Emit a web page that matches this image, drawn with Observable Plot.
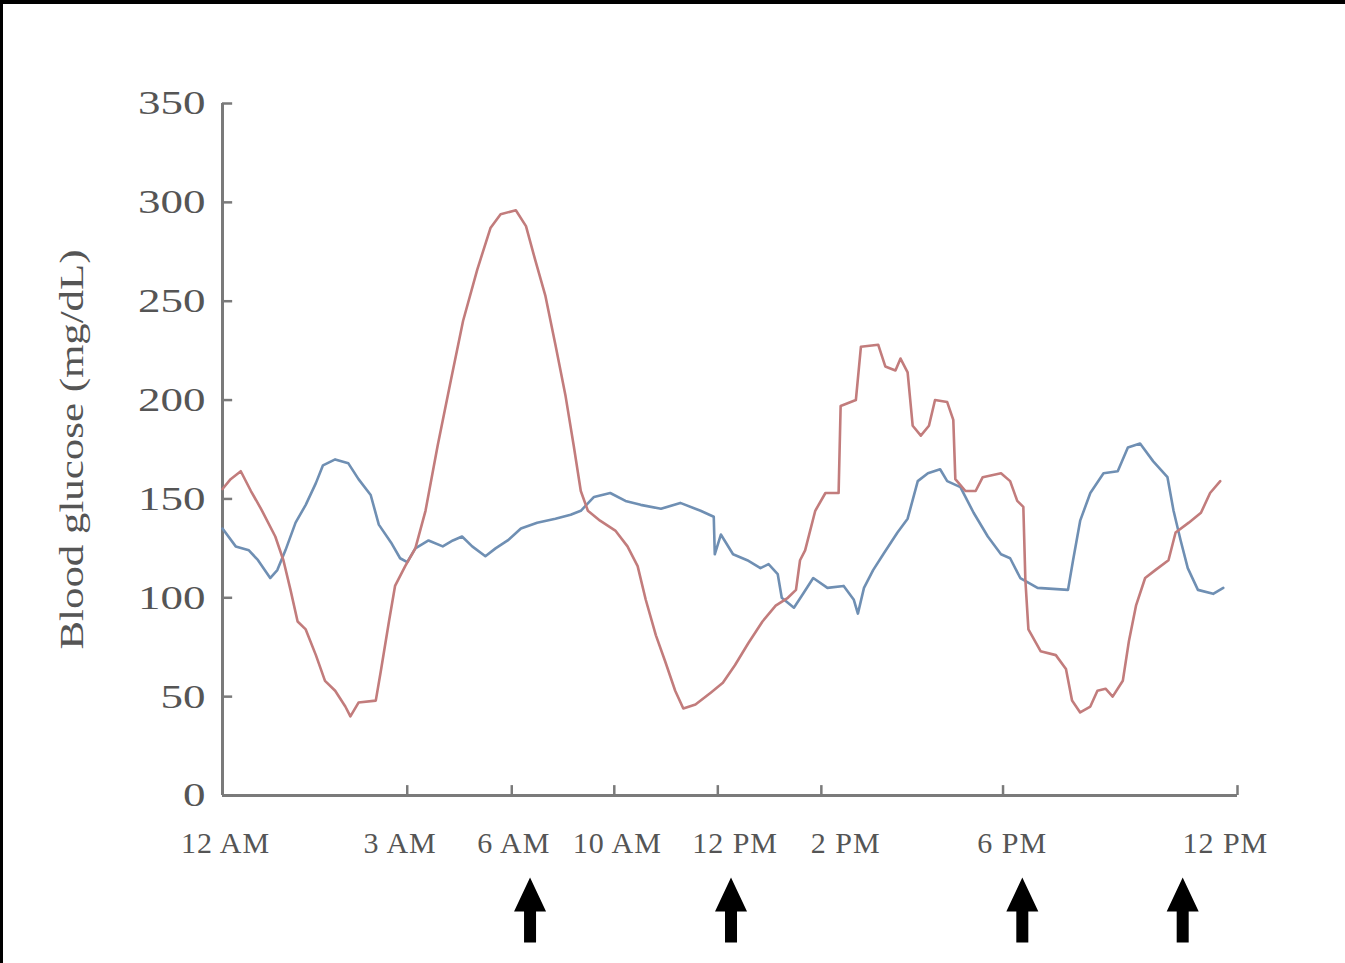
<!DOCTYPE html>
<html><head><meta charset="utf-8">
<script src="https://cdn.jsdelivr.net/npm/d3@7"></script>
<script src="https://cdn.jsdelivr.net/npm/@observablehq/plot@0.6"></script>
<style>
html,body{margin:0;padding:0;background:#fff;}
#frame{width:1342px;height:959px;border-top:4px solid #000;border-left:3px solid #000;overflow:hidden;background:#fff;}
text[aria-label="xtick-label"]{letter-spacing:1px;}
</style></head><body><div id="frame"></div>
<script>
// Time axis is an irregular index (0 = 12 AM start, 100 = 12 PM end)
const xTickPos = [18.2, 28.5, 38.6, 48.8, 59.0, 76.9, 100];
const xLabelText = ["12 AM", "3 AM", "6 AM", "10 AM", "12 PM", "2 PM", "6 PM", "12 PM"];
const xLabelPos = [0.3, 17.5, 28.7, 38.9, 50.5, 61.4, 77.8, 98.8];
const mealPos = [30.3, 50.1, 78.8, 94.6];
const yTicks = [0, 50, 100, 150, 200, 250, 300, 350];

const redTime = [0,0.8,1.8,2.8,3.9,5.2,6.0,6.7,7.4,8.2,9.2,10.1,11.1,12.1,12.6,13.4,15.1,15.6,16.4,17.0,18.0,19.0,20.0,21.2,22.5,23.7,25.1,26.4,27.4,28.9,29.9,30.8,31.8,32.8,33.8,34.6,35.3,36.0,37.2,38.7,39.9,40.9,41.7,42.7,43.6,44.6,45.4,46.6,48.1,49.3,50.5,51.8,53.2,54.5,55.7,56.5,56.9,57.4,58.4,59.4,60.7,60.9,62.4,62.9,64.6,65.3,66.3,66.8,67.5,68.0,68.8,69.6,70.2,71.4,72.0,72.2,73.2,74.2,74.9,76.7,77.6,78.3,78.9,79.1,79.4,80.6,82.1,83.1,83.7,84.5,85.5,86.2,87.0,87.7,88.7,89.3,90.0,90.9,91.9,93.2,93.9,95.2,96.4,97.3,98.3];
const redGlucose = [155,160,164,154,144,131,119,104,88,84,71,58,53,45,40,47,48,63,88,106,116,125,144,177,210,240,266,287,294,296,288,271,253,228,202,177,154,144,139,134,126,116,99,81,68,53,44,46,52,57,66,77,88,96,100,104,119,124,144,153,153,197,200,227,228,217,215,221,214,187,182,187,200,199,190,160,154,154,161,163,159,149,146,109,84,73,71,64,48,42,45,53,54,50,58,78,96,110,114,119,133,138,143,153,159];

const blueTime = [0,1.3,2.6,3.5,4.7,5.4,6.2,7.2,8.2,9.2,9.9,11.1,12.4,13.4,14.6,15.4,16.6,17.5,18.2,19.0,20.3,21.7,22.7,23.6,24.6,25.9,26.9,28.1,29.4,31.0,32.8,34.3,35.3,36.6,38.2,39.7,41.2,43.2,45.1,47.1,48.4,48.5,49.1,50.3,51.7,53.0,53.8,54.7,55.1,56.3,57.2,58.2,59.6,61.2,62.2,62.6,63.2,64.1,65.1,66.5,67.5,68.5,69.5,70.7,71.4,72.7,74.0,75.4,76.7,77.6,78.6,80.3,83.3,83.8,84.5,85.5,86.8,88.2,89.2,90.4,91.7,93.1,93.7,94.4,95.1,96.1,97.6,98.6];
const blueGlucose = [135,126,124,119,110,114,124,138,147,158,167,170,168,160,152,137,128,120,118,125,129,126,129,131,126,121,125,129,135,138,140,142,144,151,153,149,147,145,148,144,141,122,132,122,119,115,117,112,100,95,102,110,105,106,99,92,105,114,122,133,140,159,163,165,159,156,143,131,122,120,110,105,104,119,139,153,163,164,176,178,169,161,144,129,115,104,102,105];

const red = redTime.map((t, i) => ({t, g: redGlucose[i]}));
const blue = blueTime.map((t, i) => ({t, g: blueGlucose[i]}));

const arrowSymbol = {
  draw(ctx, size) {
    const k = Math.sqrt(size / Math.PI) / 10;
    ctx.moveTo(0, -33 * k);
    ctx.lineTo(16 * k, 1 * k);
    ctx.lineTo(6 * k, 1 * k);
    ctx.lineTo(6 * k, 32 * k);
    ctx.lineTo(-6 * k, 32 * k);
    ctx.lineTo(-6 * k, 1 * k);
    ctx.lineTo(-16 * k, 1 * k);
    ctx.closePath();
  }
};

const axisColor = "#7a7a7a";
const textColor = "#555";

const chart = Plot.plot({
  width: 1342,
  height: 959,
  marginLeft: 219,
  marginRight: 108,
  marginTop: 99,
  marginBottom: 168,
  style: {fontFamily: "'Liberation Serif', 'DejaVu Serif', serif", fontSize: "30px", color: textColor, background: "#fff"},
  x: {domain: [0, 100], axis: null},
  y: {domain: [0, 350], axis: null},
  marks: [
    Plot.ruleY([0], {x1: 0, x2: 100, stroke: axisColor, strokeWidth: 3}),
    Plot.ruleX([0], {y1: 0, y2: 350, stroke: axisColor, strokeWidth: 3}),
    Plot.ruleY(yTicks, {y: d => d, x1: 0, x2: 1, stroke: axisColor, strokeWidth: 2.5}),
    Plot.ruleX(xTickPos, {x: d => d, y1: 0, y2: 5, stroke: axisColor, strokeWidth: 2.5}),
    Plot.text(yTicks, {y: d => d, text: d => String(d), frameAnchor: "left", dx: -17, textAnchor: "end", fill: textColor, fontSize: 34, ariaLabel: () => "ytick-label"}),
    Plot.text(xLabelText, {x: (d, i) => xLabelPos[i], text: d => d, frameAnchor: "bottom", dy: 57, textAnchor: "middle", fill: textColor, fontSize: 30, ariaLabel: () => "xtick-label"}),
    Plot.text(["Blood glucose (mg/dL)"], {frameAnchor: "left", dx: -150, rotate: -90, textAnchor: "middle", fill: textColor, fontSize: 34, ariaLabel: () => "ytitle"}),
    Plot.line(blue, {x: "t", y: "g", stroke: "#6f8fb3", strokeWidth: 2.6}),
    Plot.line(red, {x: "t", y: "g", stroke: "#c27c7c", strokeWidth: 2.6}),
    Plot.dot(mealPos, {x: d => d, frameAnchor: "bottom", dy: 115, r: 10, symbol: arrowSymbol, fill: "#000", stroke: "none"})
  ]
});
// widen glyphs to match the stretched lettering of the original
d3.select(chart).selectAll('text[aria-label="ytick-label"]').each(function () {
  this.setAttribute("textLength", this.textContent.length * 22.5);
  this.setAttribute("lengthAdjust", "spacingAndGlyphs");
});
d3.select(chart).selectAll('text[aria-label="ytitle"]').each(function () {
  this.setAttribute("textLength", 400);
  this.setAttribute("lengthAdjust", "spacingAndGlyphs");
});
document.getElementById("frame").appendChild(chart);
</script></body></html>
